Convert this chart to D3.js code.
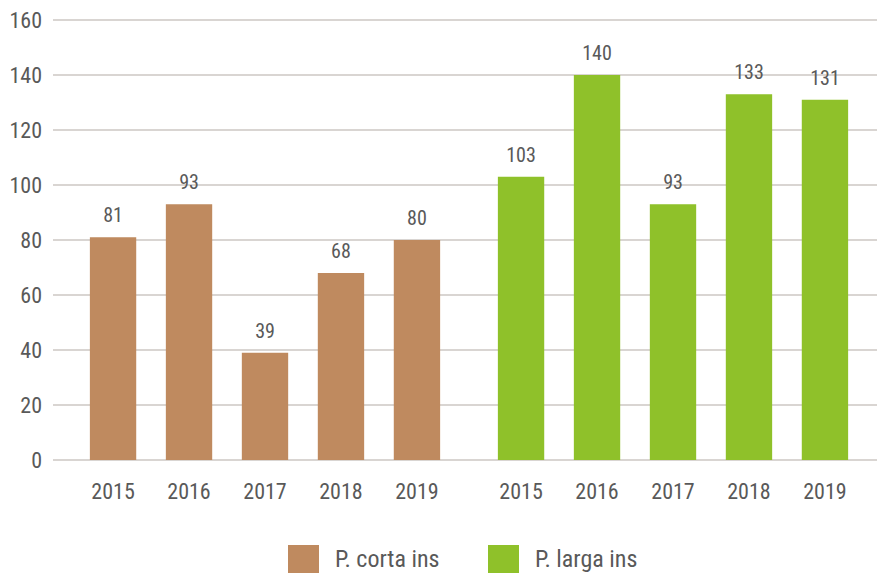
<!DOCTYPE html>
<html>
<head>
<meta charset="utf-8">
<script src="https://cdn.jsdelivr.net/npm/d3@7"></script>
<style>
  html, body { margin: 0; padding: 0; background: #fff; }
  svg text { font-family: "Roboto Condensed", "Liberation Sans Narrow", "Roboto", sans-serif; fill: #595959; }
</style>
</head>
<body>
<svg id="chart" width="877" height="573"></svg>
<script>
// data
const groups = ['P. corta ins', 'P. larga ins'];
const years = ['2015', '2016', '2017', '2018', '2019'];
const cortaValues = [81, 93, 39, 68, 80];
const largaValues = [103, 140, 93, 133, 131];
const colors = ['#bf8a5f', '#8fc12a'];
const yTicks = [0, 20, 40, 60, 80, 100, 120, 140, 160];

const series = [cortaValues, largaValues];

const svg = d3.select('#chart');
const margin = { top: 20, right: 0, bottom: 113, left: 53 };
const width = 877, height = 573;
const plotBottom = height - margin.bottom;

const y = d3.scaleLinear().domain([0, 160]).range([plotBottom, margin.top]);

const x0 = d3.scaleBand().domain(groups).range([61, width]).padding(0);
const x1 = d3.scaleBand().domain(years).range([0, x0.bandwidth()])
  .paddingInner(0.39).paddingOuter(0.38);

// gridlines
svg.append('g')
  .selectAll('line')
  .data(yTicks)
  .join('line')
  .attr('x1', margin.left)
  .attr('x2', width)
  .attr('y1', d => y(d))
  .attr('y2', d => y(d))
  .attr('stroke', '#d9d5d2')
  .attr('stroke-width', 2);

// y axis labels
svg.append('g')
  .selectAll('text')
  .data(yTicks)
  .join('text')
  .attr('x', 42)
  .attr('y', d => y(d))
  .attr('dy', '0.35em')
  .attr('text-anchor', 'end')
  .style('font-size', '22px')
  .text(d => d);

// bars, value labels and year labels
groups.forEach((g, gi) => {
  const grp = svg.append('g').attr('transform', `translate(${x0(g)},0)`);
  const vals = series[gi];

  grp.selectAll('rect')
    .data(vals)
    .join('rect')
    .attr('x', (d, i) => x1(years[i]))
    .attr('y', d => y(d))
    .attr('width', x1.bandwidth())
    .attr('height', d => plotBottom - y(d))
    .attr('fill', colors[gi]);

  grp.selectAll('.val')
    .data(vals)
    .join('text')
    .attr('class', 'val')
    .attr('x', (d, i) => x1(years[i]) + x1.bandwidth() / 2)
    .attr('y', d => y(d) - 22)
    .attr('dy', '0.35em')
    .attr('text-anchor', 'middle')
    .style('font-size', '20px')
    .text(d => d);

  grp.selectAll('.yr')
    .data(years)
    .join('text')
    .attr('class', 'yr')
    .attr('x', d => x1(d) + x1.bandwidth() / 2)
    .attr('y', 491)
    .attr('dy', '0.35em')
    .attr('text-anchor', 'middle')
    .style('font-size', '22px')
    .text(d => d);
});

// legend
const legend = svg.append('g');
const legendX = [288, 488];
groups.forEach((g, i) => {
  legend.append('rect')
    .attr('x', legendX[i])
    .attr('y', 545)
    .attr('width', 31)
    .attr('height', 28)
    .attr('fill', colors[i]);
  legend.append('text')
    .attr('x', legendX[i] + 47)
    .attr('y', 559)
    .attr('dy', '0.35em')
    .style('font-size', '24px')
    .text(g);
});
</script>
</body>
</html>
